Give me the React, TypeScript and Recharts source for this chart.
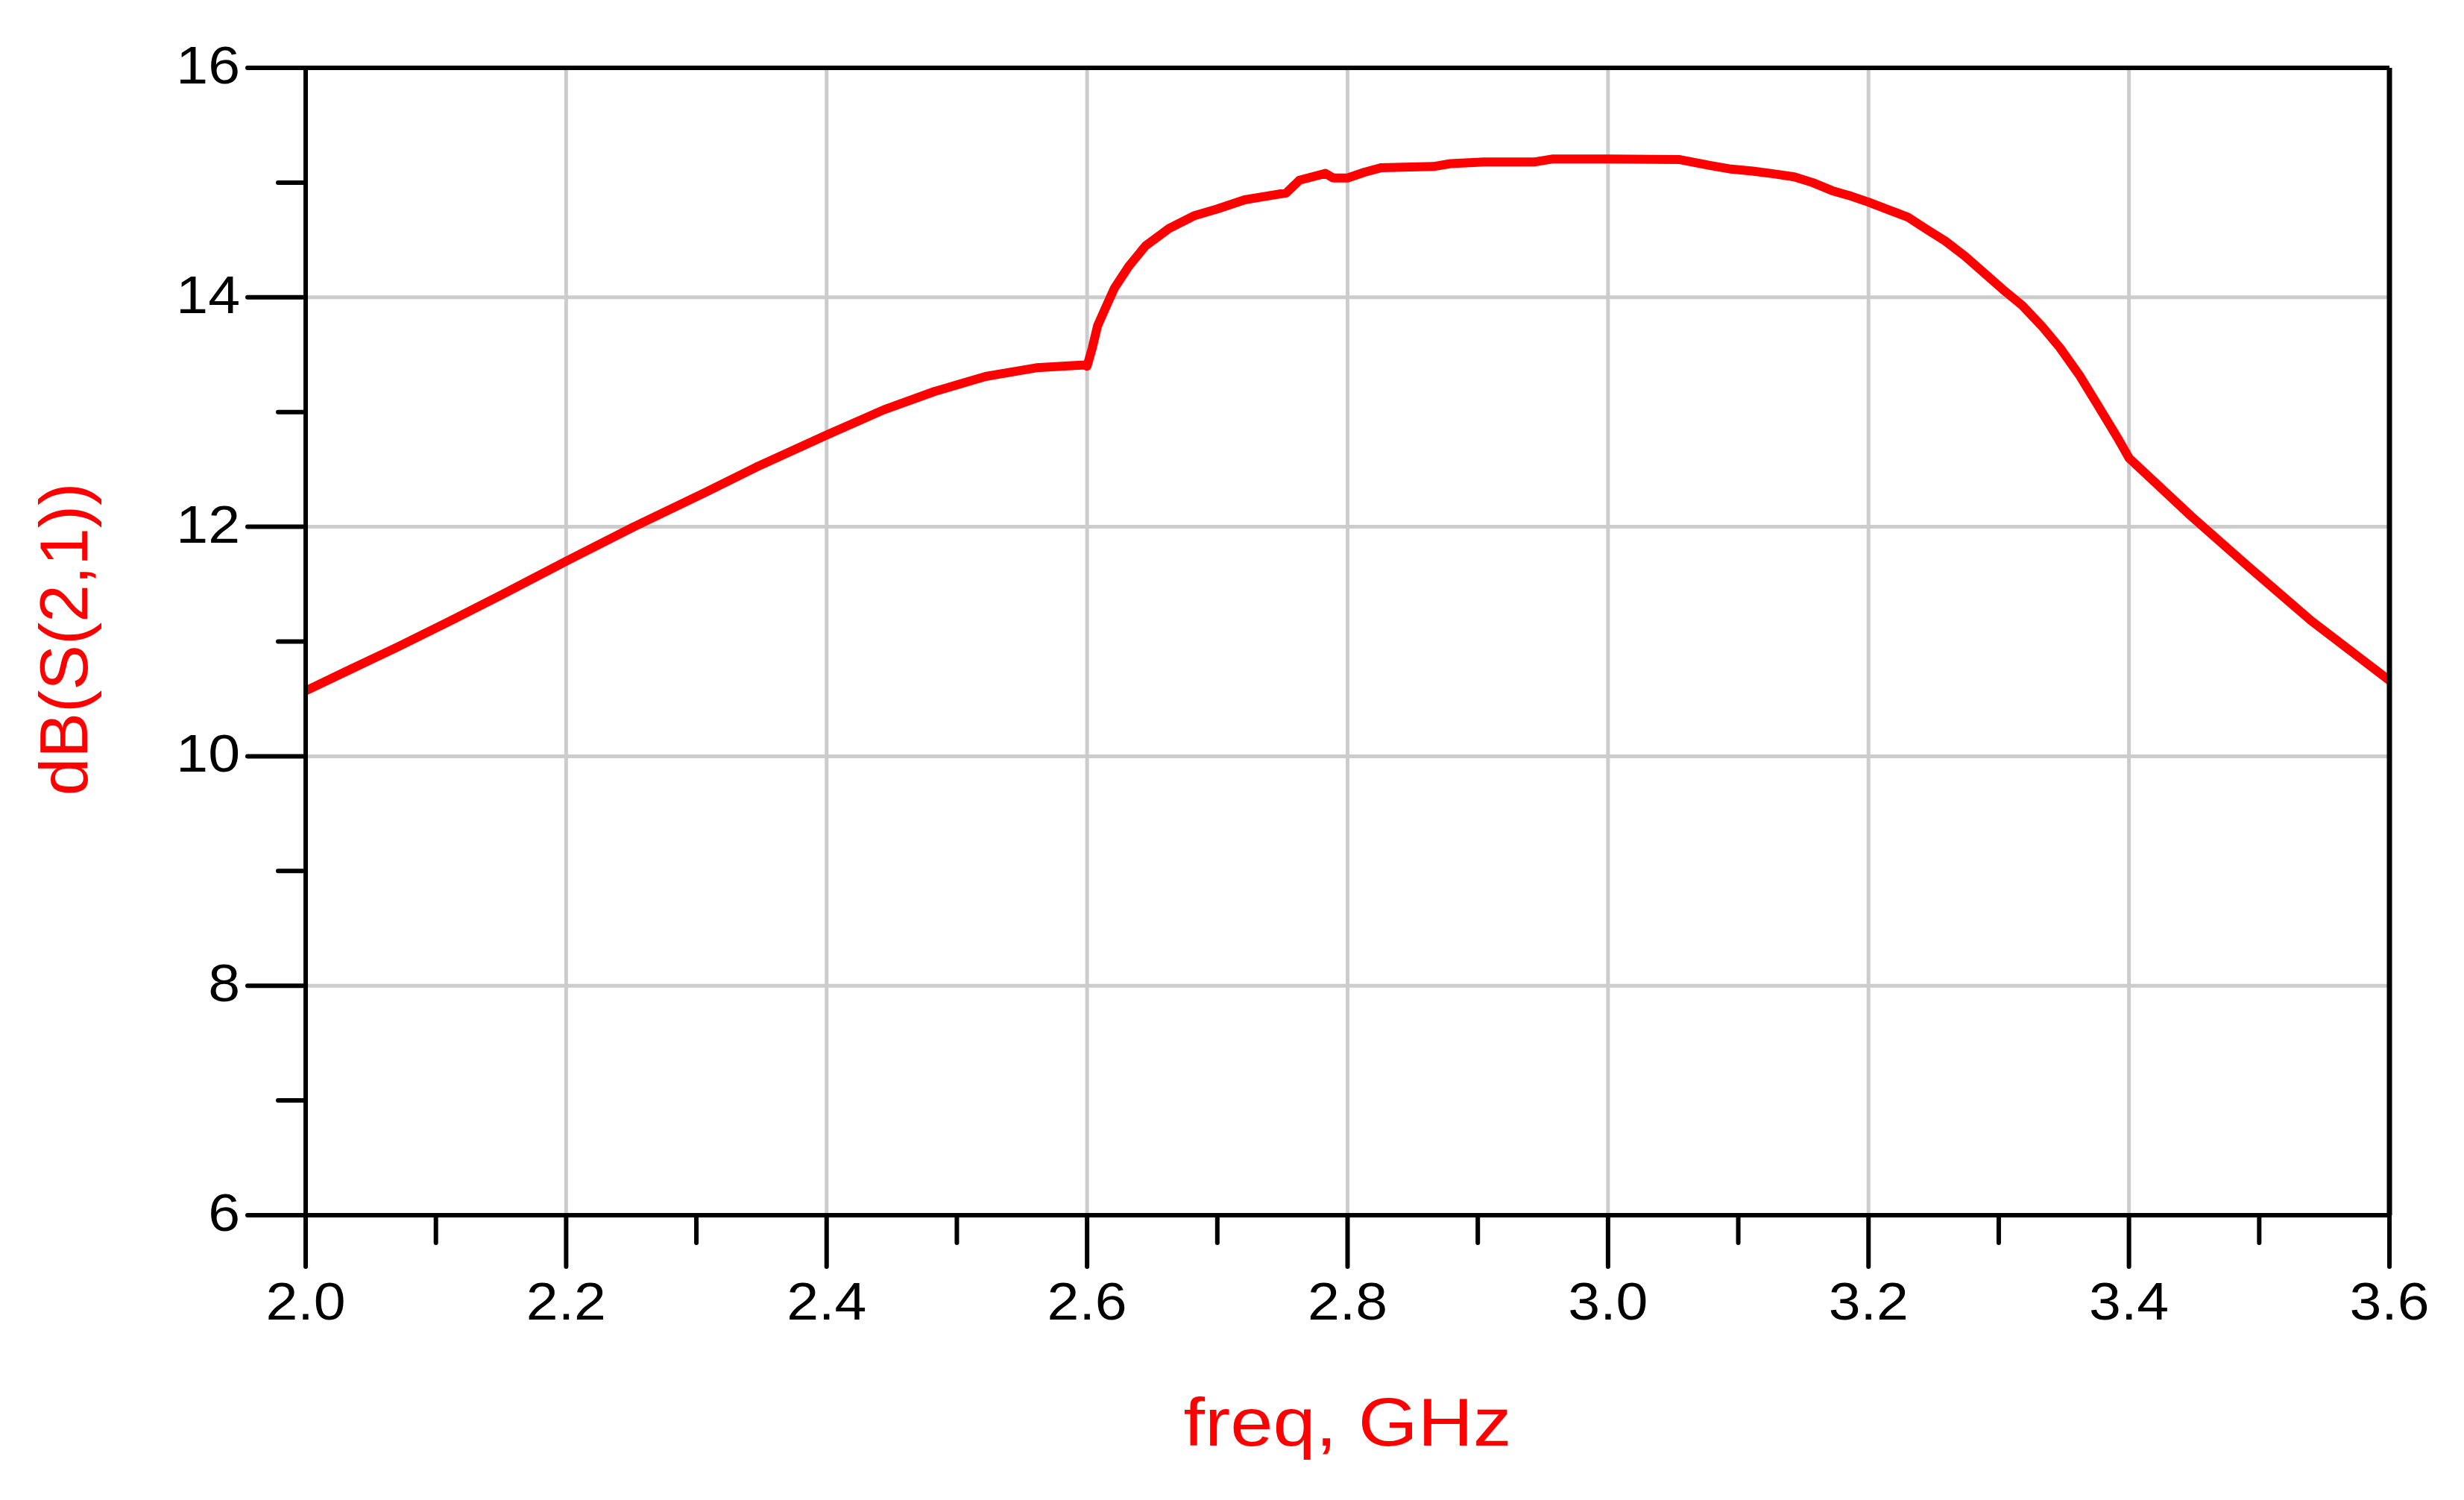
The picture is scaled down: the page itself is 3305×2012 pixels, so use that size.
import React from 'react';
import { LineChart, Line, XAxis, YAxis, CartesianGrid, ReferenceLine } from 'recharts';

const freqGHz = [
  2.0, 2.033, 2.072, 2.111, 2.151, 2.2, 2.252, 2.307, 2.346, 2.4, 2.444, 2.483, 2.522, 2.561, 2.598,
  2.6, 2.604, 2.608, 2.615, 2.621, 2.632, 2.645, 2.663, 2.682, 2.7, 2.721, 2.742, 2.753, 2.763, 2.783,
  2.789, 2.8, 2.813, 2.826, 2.866, 2.879, 2.905, 2.944, 2.957, 3.0, 3.055, 3.064, 3.078, 3.093, 3.111,
  3.128, 3.143, 3.157, 3.172, 3.187, 3.2, 3.216, 3.23, 3.245, 3.259, 3.274, 3.289, 3.303, 3.318, 3.333,
  3.347, 3.362, 3.376, 3.391, 3.4, 3.448, 3.492, 3.54, 3.6,
];

const dbS21 = [
  10.57, 10.75, 10.96, 11.18, 11.41, 11.70, 12.0, 12.30, 12.52, 12.80, 13.02, 13.18, 13.31, 13.386, 13.41,
  13.40, 13.56, 13.75, 13.93, 14.08, 14.27, 14.45, 14.60, 14.71, 14.77, 14.85, 14.89, 14.91, 15.02, 15.08,
  15.04, 15.04, 15.09, 15.13, 15.14, 15.165, 15.18, 15.18, 15.205, 15.205, 15.20, 15.18, 15.15, 15.12, 15.10,
  15.075, 15.05, 15.00, 14.93, 14.88, 14.83, 14.76, 14.70, 14.59, 14.49, 14.36, 14.21, 14.07, 13.93, 13.75,
  13.56, 13.32, 13.06, 12.78, 12.6, 12.09, 11.65, 11.18, 10.66,
];

const xTicks = [2.0, 2.1, 2.2, 2.3, 2.4, 2.5, 2.6, 2.7, 2.8, 2.9, 3.0, 3.1, 3.2, 3.3, 3.4, 3.5, 3.6];
const xMajor = [2.0, 2.2, 2.4, 2.6, 2.8, 3.0, 3.2, 3.4, 3.6];
const yTicks = [6, 7, 8, 9, 10, 11, 12, 13, 14, 15, 16];
const yMajor = [6, 8, 10, 12, 14, 16];

const xTitle = 'freq, GHz';
const yTitle = 'dB(S(2,1))';

const data = freqGHz.map((f, i) => ({ f, db: dbS21[i] }));

const FONT = '"Liberation Sans", Arial, Helvetica, sans-serif';
const RED = '#ff0000';

const isMajor = (list: number[], v: number) => list.some((m) => Math.abs(m - v) < 1e-6);

const XTick = (props: any) => {
  const { x, y, payload } = props;
  const major = isMajor(xMajor, payload.value);
  return (
    <g>
      <line x1={x} y1={y} x2={x} y2={y + (major ? 69 : 37)} stroke="#000" strokeWidth={6} strokeLinecap="round" />
      {major && (
        <text
          transform={`translate(${x},${y + 140}) scale(1.1,1)`}
          textAnchor="middle"
          fontSize={70}
          fontFamily={FONT}
          fill="#000"
        >
          {Number(payload.value).toFixed(1)}
        </text>
      )}
    </g>
  );
};

const YTick = (props: any) => {
  const { x, y, payload } = props;
  const major = isMajor(yMajor, payload.value);
  return (
    <g>
      <line x1={x - (major ? 78 : 37)} y1={y} x2={x} y2={y} stroke="#000" strokeWidth={6} strokeLinecap="round" />
      {major && (
        <text
          transform={`translate(${x - 88},${y + 21}) scale(1.1,1)`}
          textAnchor="end"
          fontSize={70}
          fontFamily={FONT}
          fill="#000"
        >
          {String(payload.value)}
        </text>
      )}
    </g>
  );
};

const XTitle = (props: any) => {
  const vb = props.viewBox || { x: 0, y: 0, width: 0, height: 0 };
  return (
    <text
      transform={`translate(${vb.x + vb.width / 2},${vb.y + 309}) scale(1.13,1)`}
      textAnchor="middle"
      fontSize={91}
      fontFamily={FONT}
      fill={RED}
    >
      {xTitle}
    </text>
  );
};

const YTitle = (props: any) => {
  const vb = props.viewBox || { x: 0, y: 0, width: 0, height: 0 };
  return (
    <text
      transform={`translate(${vb.x + 7},${vb.y + vb.height / 2 - 3}) rotate(-90)`}
      textAnchor="middle"
      fontSize={91}
      fontFamily={FONT}
      fill={RED}
    >
      {yTitle}
    </text>
  );
};

export default function App() {
  return (
    <div style={{ position: 'absolute', left: 0, top: 0, width: 3305, height: 2012, background: '#fff' }}>
      <LineChart
        width={3305}
        height={2012}
        data={data}
        margin={{ top: 91, right: 100, bottom: 182, left: 110 }}
      >
        <CartesianGrid
          stroke="#cccccc"
          strokeWidth={5}
          verticalValues={xMajor}
          horizontalValues={yMajor}
        />
        <XAxis
          dataKey="f"
          type="number"
          domain={[2, 3.6]}
          ticks={xTicks}
          interval={0}
          height={200}
          tickSize={0}
          tickMargin={0}
          tickLine={false}
          tick={<XTick />}
          axisLine={{ stroke: '#000', strokeWidth: 6 }}
          allowDataOverflow
          label={<XTitle />}
        />
        <YAxis
          type="number"
          domain={[6, 16]}
          ticks={yTicks}
          interval={0}
          width={300}
          tickSize={0}
          tickMargin={0}
          tickLine={false}
          tick={<YTick />}
          axisLine={{ stroke: '#000', strokeWidth: 6 }}
          allowDataOverflow
          label={<YTitle />}
        />
        <Line
          type="linear"
          dataKey="db"
          stroke={RED}
          strokeWidth={12}
          dot={false}
          isAnimationActive={false}
          strokeLinejoin="round"
          strokeLinecap="round"
        />
        <ReferenceLine y={16} stroke="#000" strokeWidth={6} />
        <ReferenceLine x={3.6} stroke="#000" strokeWidth={7} />
      </LineChart>
    </div>
  );
}
